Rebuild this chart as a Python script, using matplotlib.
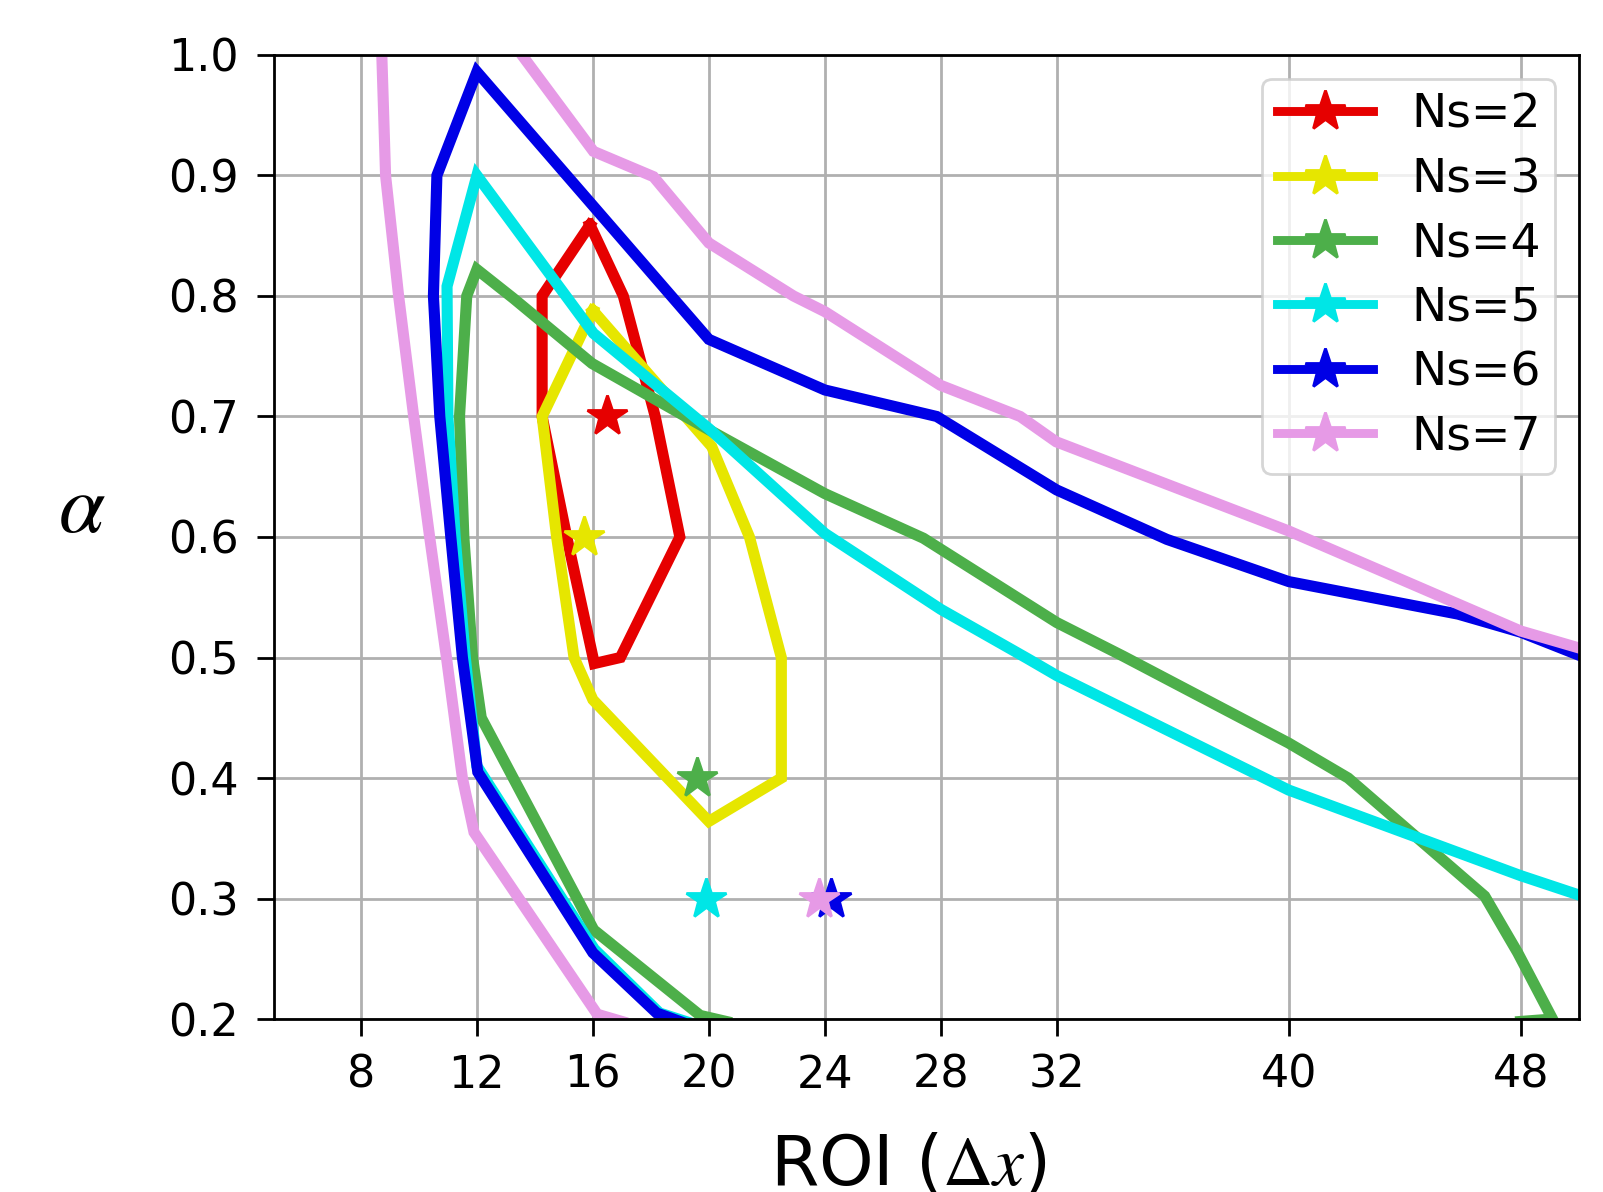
"""Feasible-region contours of alpha vs ROI for several Ns, with the
chosen operating point of each marked by a star."""
import matplotlib
matplotlib.use("Agg")
import matplotlib.pyplot as plt
from matplotlib.lines import Line2D

NS = [2, 3, 4, 5, 6, 7]
COLORS = ["#e60000", "#e6e600", "#4daf4a", "#00e6e6", "#0000e6", "#e69ae6"]

# contour vertices: (ROI in dx, alpha)
ns2_x = [15.9, 17.05, 18.15, 19.0, 16.95, 16.05, 15.1, 14.25, 14.25, 15.9]
ns2_y = [0.859, 0.80, 0.70, 0.60, 0.50, 0.495, 0.60, 0.70, 0.80, 0.859]

ns3_x = [16.0, 20.1, 21.4, 22.5, 22.5, 20.0, 16.0, 15.35, 14.75, 14.25, 16.0]
ns3_y = [0.788, 0.675, 0.60, 0.50, 0.40, 0.364, 0.465, 0.50, 0.60, 0.70, 0.788]

ns4_x = [20.6, 19.7, 16.03, 12.15, 11.85, 11.55, 11.4, 11.65, 12.0, 13.26,
         15.97, 20.0, 24.0, 27.4, 32.0, 34.3, 40.0, 42.05, 46.76, 47.9,
         49.1, 48.0]
ns4_y = [0.198, 0.203, 0.274, 0.45, 0.50, 0.60, 0.70, 0.80, 0.822, 0.798,
         0.744, 0.689, 0.636, 0.599, 0.529, 0.501, 0.429, 0.40, 0.302,
         0.255, 0.20, 0.198]

ns5_x = [19.2, 18.3, 16.05, 12.0, 11.6, 11.25, 11.0, 10.97, 12.0, 16.02,
         20.0, 24.0, 28.0, 31.0, 32.0, 40.0, 48.0, 50.0]
ns5_y = [0.198, 0.205, 0.258, 0.41, 0.50, 0.60, 0.70, 0.808, 0.90, 0.769,
         0.69, 0.603, 0.54, 0.499, 0.485, 0.390, 0.319, 0.303]

ns6_x = [19.0, 18.2, 16.0, 12.03, 11.5, 11.1, 10.72, 10.5, 10.62, 12.0,
         20.0, 24.0, 27.86, 32.0, 35.8, 40.0, 45.84, 48.0, 50.0]
ns6_y = [0.198, 0.205, 0.255, 0.405, 0.50, 0.60, 0.70, 0.80, 0.90, 0.986,
         0.764, 0.722, 0.70, 0.639, 0.598, 0.563, 0.536, 0.521, 0.502]

# Ns=7 leaves through the top edge, so it comes in two pieces
ns7a_x = [8.72, 8.85, 9.3, 9.82, 10.37, 10.95, 11.5, 11.9, 16.15, 17.0]
ns7a_y = [1.0, 0.90, 0.80, 0.70, 0.60, 0.50, 0.40, 0.355, 0.204, 0.198]
ns7b_x = [13.55, 16.02, 18.09, 20.0, 22.92, 24.0, 27.98, 30.74, 31.98,
          40.0, 48.0, 50.0]
ns7b_y = [1.0, 0.920, 0.899, 0.844, 0.80, 0.787, 0.726, 0.70, 0.679,
          0.605, 0.522, 0.508]

star_x = [16.5, 15.7, 19.6, 19.9, 24.2, 23.8]
star_y = [0.70, 0.60, 0.40, 0.30, 0.30, 0.30]

X_TICKS = [8, 12, 16, 20, 24, 28, 32, 40, 48]
Y_TICKS = [0.2, 0.3, 0.4, 0.5, 0.6, 0.7, 0.8, 0.9, 1.0]

plt.rcParams.update({
    "font.family": "DejaVu Sans", "mathtext.fontset": "stix",
    "axes.linewidth": 1.0,
})

LW, MS = 4.0, 15

curves = [
    [(ns2_x, ns2_y)],
    [(ns3_x, ns3_y)],
    [(ns4_x, ns4_y)],
    [(ns5_x, ns5_y)],
    [(ns6_x, ns6_y)],
    [(ns7a_x, ns7a_y), (ns7b_x, ns7b_y)],
]

fig = plt.figure(figsize=(8.015, 5.96), dpi=200)
ax = fig.add_axes([0.1709, 0.1451, 0.8139, 0.8088])

for i, c in enumerate(COLORS):
    for xs, ys in curves[i]:
        ax.plot(xs, ys, color=c, lw=LW, solid_joinstyle="miter", zorder=2)
    ax.plot(star_x[i], star_y[i], "*", color=c, ms=MS, zorder=3)

ax.set_xlim(5, 50)
ax.set_ylim(0.2, 1.0)
ax.set_xticks(X_TICKS)
ax.set_yticks(Y_TICKS)
ax.set_yticklabels([f"{v:.1f}" for v in Y_TICKS])
ax.tick_params(labelsize=16, length=6, width=1.0, pad=6.5)
ax.grid(True, color="#b0b0b0", lw=1.0)
ax.set_axisbelow(True)

ax.set_xlabel(r"ROI ($\Delta x$)", fontsize=25)
ax.xaxis.set_label_coords(0.486, -0.117)
ax.xaxis.label.set_va("top")
ax.set_ylabel(r"$\alpha$", fontsize=30, rotation=0, ha="center", va="center")
ax.yaxis.set_label_coords(-0.147, 0.53)

handles = [Line2D([], [], color=c, lw=3.2, marker="*", ms=MS)
           for c in COLORS]
ax.legend(handles, [f"Ns={n}" for n in NS], loc="upper right",
          fontsize=17, handlelength=2.05, labelspacing=0.41, borderpad=0.3)

fig.savefig("out.png", dpi=200)
